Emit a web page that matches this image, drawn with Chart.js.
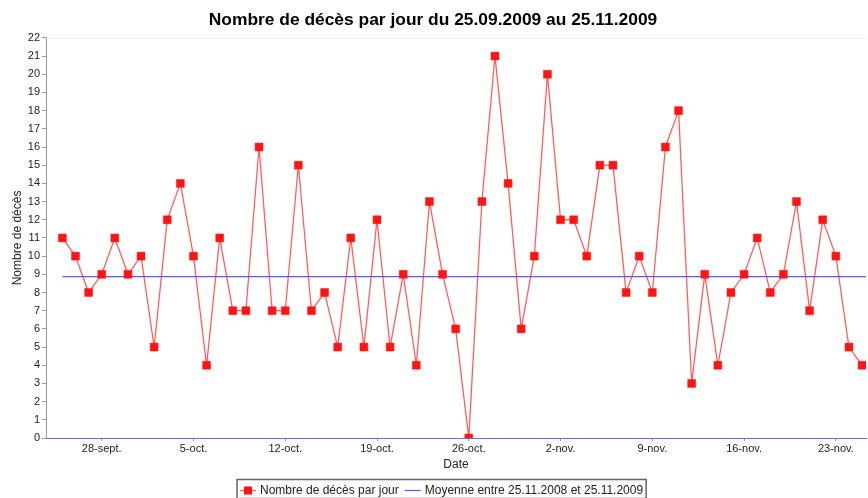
<!DOCTYPE html>
<html>
<head>
<meta charset="utf-8">
<title>Nombre de décès par jour</title>
<script src="https://cdn.jsdelivr.net/npm/chart.js@4/dist/chart.umd.min.js"></script>
<style>
    html, body { margin: 0; padding: 0; background: #fff; }
</style>
</head>
<body>
<canvas id="decesChart" width="868" height="498"></canvas>
<script>
// Jours du 25.09.2009 au 25.11.2009
const dates = [
    '25.09', '26.09', '27.09', '28.09', '29.09', '30.09',
    '01.10', '02.10', '03.10', '04.10', '05.10', '06.10', '07.10', '08.10', '09.10', '10.10',
    '11.10', '12.10', '13.10', '14.10', '15.10', '16.10', '17.10', '18.10', '19.10', '20.10',
    '21.10', '22.10', '23.10', '24.10', '25.10', '26.10', '27.10', '28.10', '29.10', '30.10', '31.10',
    '01.11', '02.11', '03.11', '04.11', '05.11', '06.11', '07.11', '08.11', '09.11', '10.11',
    '11.11', '12.11', '13.11', '14.11', '15.11', '16.11', '17.11', '18.11', '19.11', '20.11',
    '21.11', '22.11', '23.11', '24.11', '25.11'
];
const deces = [
    11, 10, 8, 9, 11, 9,
    10, 5, 12, 14, 10, 4, 11, 7, 7, 16,
    7, 7, 15, 7, 8, 5, 11, 5, 12, 5,
    9, 4, 13, 9, 6, 0, 13, 21, 14, 6, 10,
    20, 12, 12, 10, 15, 15, 8, 10, 8, 16,
    18, 3, 9, 4, 8, 9, 11, 8, 9, 13,
    7, 12, 10, 5, 4
];
const moyenne = 8.87;
const weekDates = ['28.09', '05.10', '12.10', '19.10', '26.10', '02.11', '09.11', '16.11', '23.11'];
const weekLabels = ['28-sept.', '5-oct.', '12-oct.', '19-oct.', '26-oct.', '2-nov.', '9-nov.', '16-nov.', '23-nov.'];

const FONT = '"Liberation Sans", Arial, sans-serif';
const xMin = -1.25;
const xMax = dates.length - 1 + 0.3;

// legende encadree en bas + ligne claire en haut du graphe
const legendBox = {
    id: 'legendBox',
    afterDraw(chart) {
        const ctx = chart.ctx;
        const area = chart.chartArea;
        ctx.save();

        ctx.strokeStyle = '#ececec';
        ctx.lineWidth = 1;
        ctx.beginPath();
        ctx.moveTo(area.left, area.top + 0.5);
        ctx.lineTo(area.right, area.top + 0.5);
        ctx.stroke();

        ctx.font = '12px ' + FONT;
        const items = chart.data.datasets.map(ds => ({
            label: ds.label,
            color: ds.borderColor,
            marker: ds.pointRadius > 0 ? ds.pointBackgroundColor : null,
            w: ctx.measureText(ds.label).width
        }));
        const pad = 3, sym = 16, gap = 4, itemGap = 6;
        let total = pad * 2;
        items.forEach((it, i) => { total += sym + gap + it.w + (i ? itemGap : 0); });
        const boxX = Math.round(chart.width / 2 + 8 - total / 2);
        const boxY = 479.5;
        const cy = 490;

        ctx.strokeStyle = '#666';
        ctx.lineWidth = 1.5;
        ctx.strokeRect(boxX, boxY, total, 19);

        let x = boxX + pad;
        items.forEach((it, i) => {
            if (i) x += itemGap;
            ctx.strokeStyle = it.color;
            ctx.lineWidth = 1.2;
            ctx.beginPath();
            ctx.moveTo(x, cy + 0.5);
            ctx.lineTo(x + sym, cy + 0.5);
            ctx.stroke();
            if (it.marker) {
                ctx.fillStyle = it.marker;
                ctx.fillRect(x + sym / 2 - 4, cy - 3.5, 8, 8);
            }
            x += sym + gap;
            ctx.fillStyle = '#222';
            ctx.textBaseline = 'middle';
            ctx.fillText(it.label, x, cy + 1);
            x += it.w;
        });
        ctx.restore();
    }
};

const ctx = document.getElementById('decesChart');

new Chart(ctx, {
    type: 'line',
    data: {
        datasets: [
            {
                label: 'Nombre de décès par jour',
                data: deces.map((v, i) => ({ x: i, y: v })),
                borderColor: 'rgba(255, 40, 40, 0.75)',
                borderWidth: 1.3,
                pointStyle: 'rect',
                pointRadius: 5.6,
                pointBackgroundColor: '#ff1414',
                pointBorderColor: '#ff1414',
                pointBorderWidth: 0.5,
                tension: 0
            },
            {
                label: 'Moyenne entre 25.11.2008 et 25.11.2009',
                data: [{ x: 0, y: moyenne }, { x: xMax, y: moyenne }],
                borderColor: '#5858ff',
                borderWidth: 1.2,
                pointRadius: 0
            }
        ]
    },
    options: {
        responsive: false,
        animation: false,
        layout: { autoPadding: false, padding: { left: 0, right: 2, top: 0, bottom: 22 } },
        plugins: {
            legend: { display: false },
            tooltip: { enabled: false },
            title: {
                display: true,
                text: 'Nombre de décès par jour du 25.09.2009 au 25.11.2009',
                color: '#000',
                font: { family: FONT, size: 17.4, weight: 'bold' },
                padding: { top: 10, bottom: 7 }
            }
        },
        scales: {
            x: {
                type: 'linear',
                min: xMin,
                max: xMax,
                afterFit: scale => { scale.height = 38; },
                afterBuildTicks: scale => {
                    scale.ticks = weekDates.map(d => ({ value: dates.indexOf(d) }));
                },
                ticks: {
                    autoSkip: false,
                    maxRotation: 0,
                    padding: 1,
                    color: '#222',
                    font: { family: FONT, size: 11 },
                    callback: v => weekLabels[weekDates.indexOf(dates[v])]
                },
                grid: { drawOnChartArea: false, tickLength: 3, color: '#999' },
                border: { color: '#6a6ae8' },
                title: {
                    display: true,
                    text: 'Date',
                    color: '#222',
                    font: { family: FONT, size: 12 },
                    padding: { top: 0, bottom: 4 }
                }
            },
            y: {
                min: 0,
                max: 22,
                afterFit: scale => { scale.width = 46; },
                ticks: {
                    stepSize: 1,
                    padding: 2,
                    color: '#222',
                    font: { family: FONT, size: 11 }
                },
                grid: { drawOnChartArea: false, tickLength: 4, color: '#999' },
                border: { color: '#999' },
                title: {
                    display: true,
                    text: 'Nombre de décès',
                    color: '#222',
                    font: { family: FONT, size: 12 },
                    padding: { top: 10, bottom: 0 }
                }
            }
        }
    },
    plugins: [legendBox]
});
</script>
</body>
</html>
